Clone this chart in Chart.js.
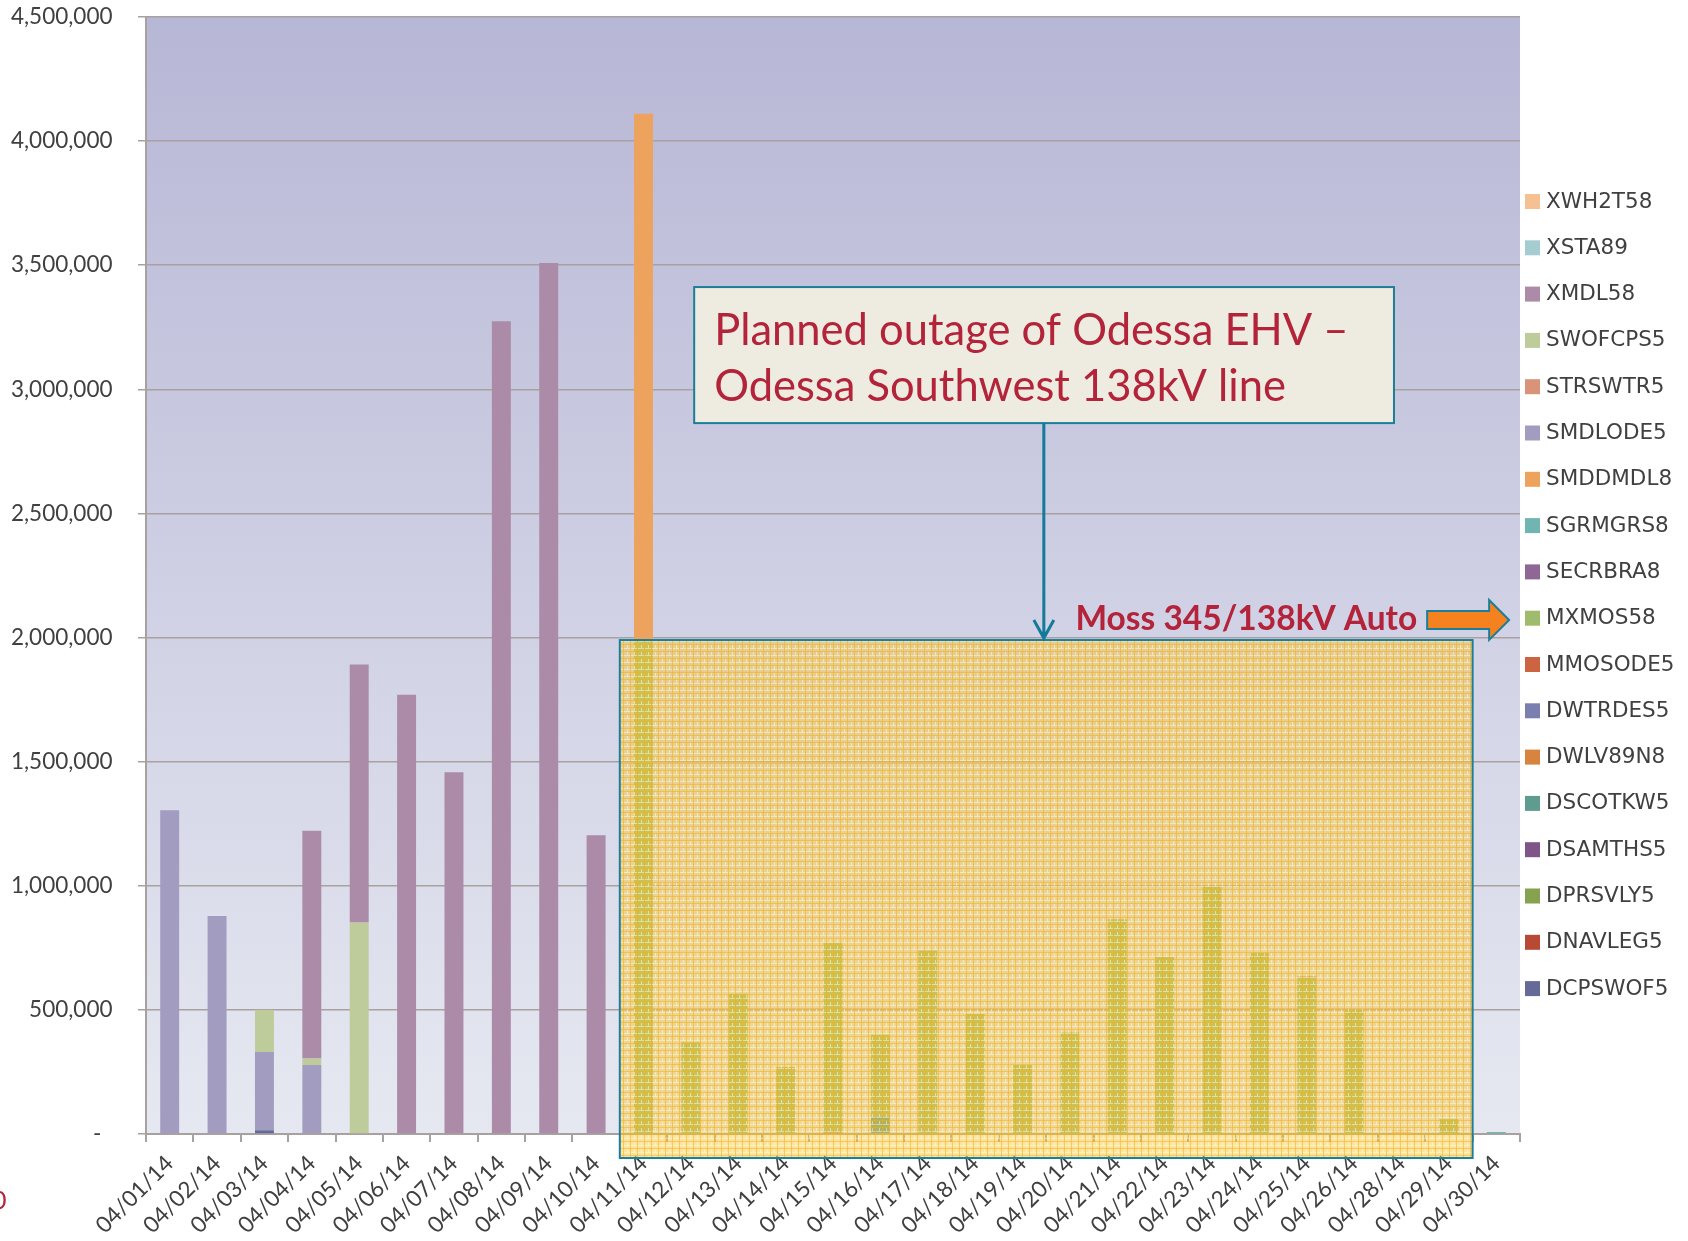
<!DOCTYPE html>
<html lang="en">
<head>
<meta charset="UTF-8">
<title>Odessa EHV outage - daily stacked bars</title>
<style>
  html, body { margin: 0; padding: 0; background: #ffffff; }
  #wrap { position: relative; width: 1688px; height: 1241px; }
</style>
</head>
<body>
<div id="wrap"><canvas id="myChart01"></canvas></div>
<script src="https://cdn.jsdelivr.net/npm/chart.js"></script>
<script>
// x categories (04/27 is not in the source chart)
var dateLabels = ['04/01/14', '04/02/14', '04/03/14', '04/04/14', '04/05/14', '04/06/14', '04/07/14', '04/08/14', '04/09/14', '04/10/14',
                  '04/11/14', '04/12/14', '04/13/14', '04/14/14', '04/15/14', '04/16/14', '04/17/14', '04/18/14', '04/19/14', '04/20/14',
                  '04/21/14', '04/22/14', '04/23/14', '04/24/14', '04/25/14', '04/26/14', '04/28/14', '04/29/14', '04/30/14'];

// y ticks
var yMax = 4500000;
var yStep = 500000;

// series values, one per date (bottom of the stack first)
var DCPSWOF5 = [0, 0, 15000, 0, 0, 0, 0, 0, 0, 0, 0, 0, 0, 0, 0, 0, 0, 0, 0, 0, 0, 0, 0, 0, 0, 0, 0, 0, 0];
var DNAVLEG5 = [0, 0, 0, 0, 0, 0, 0, 0, 0, 0, 0, 0, 0, 0, 0, 0, 0, 0, 0, 0, 0, 0, 0, 0, 0, 0, 0, 0, 0];
var DPRSVLY5 = [0, 0, 0, 0, 0, 0, 0, 0, 0, 0, 0, 0, 0, 0, 0, 0, 0, 0, 0, 0, 0, 0, 0, 0, 0, 0, 0, 0, 0];
var DSAMTHS5 = [0, 0, 0, 0, 0, 0, 0, 0, 0, 0, 0, 0, 0, 0, 0, 0, 0, 0, 0, 0, 0, 0, 0, 0, 0, 0, 0, 0, 0];
var DSCOTKW5 = [0, 0, 0, 0, 0, 0, 0, 0, 0, 0, 0, 0, 0, 0, 0, 70000, 0, 0, 0, 0, 0, 0, 0, 0, 0, 0, 0, 0, 0];
var DWLV89N8 = [0, 0, 0, 0, 0, 0, 0, 0, 0, 0, 0, 0, 0, 0, 0, 0, 0, 0, 0, 0, 0, 0, 0, 0, 0, 0, 0, 0, 0];
var DWTRDES5 = [0, 0, 0, 0, 0, 0, 0, 0, 0, 0, 0, 0, 0, 0, 0, 0, 0, 0, 0, 0, 0, 0, 0, 0, 0, 0, 0, 0, 0];
var MMOSODE5 = [0, 0, 0, 0, 0, 0, 0, 0, 0, 0, 0, 0, 0, 0, 6000, 0, 0, 0, 0, 0, 0, 0, 0, 0, 0, 0, 0, 0, 0];
var MXMOS58  = [0, 0, 0, 0, 0, 0, 0, 0, 0, 0, 1990000, 370000, 565000, 270000, 764000, 330000, 739000, 483000, 278000, 409000,
                865000, 713000, 996000, 730000, 632000, 500000, 0, 60000, 0];
var SECRBRA8 = [0, 0, 0, 0, 0, 0, 0, 0, 0, 0, 0, 0, 0, 0, 0, 0, 0, 0, 0, 0, 0, 0, 0, 0, 0, 0, 0, 0, 0];
var SGRMGRS8 = [0, 0, 0, 0, 0, 0, 0, 0, 0, 0, 0, 0, 0, 0, 0, 0, 0, 0, 0, 0, 0, 0, 0, 0, 0, 0, 0, 0, 8000];
var SMDDMDL8 = [0, 0, 0, 0, 0, 0, 0, 0, 0, 0, 2120000, 0, 0, 0, 0, 0, 0, 0, 0, 0, 0, 0, 0, 0, 0, 0, 0, 0, 0];
var SMDLODE5 = [1304000, 878000, 315000, 278000, 0, 0, 0, 0, 0, 0, 0, 0, 0, 0, 0, 0, 0, 0, 0, 0, 0, 0, 0, 0, 0, 0, 0, 0, 0];
var STRSWTR5 = [0, 0, 0, 0, 0, 0, 0, 0, 0, 0, 0, 0, 0, 0, 0, 0, 0, 0, 0, 0, 0, 0, 0, 0, 4000, 0, 0, 0, 0];
var SWOFCPS5 = [0, 0, 170000, 26000, 852000, 0, 0, 0, 0, 0, 0, 0, 0, 0, 0, 0, 0, 0, 0, 0, 0, 0, 0, 0, 0, 0, 0, 0, 0];
var XMDL58   = [0, 0, 0, 918000, 1039000, 1770000, 1457000, 3274000, 3509000, 1204000, 0, 0, 0, 0, 0, 0, 0, 0, 0, 0,
                0, 0, 0, 0, 0, 0, 0, 0, 0];
var XSTA89   = [0, 0, 0, 0, 0, 0, 0, 0, 0, 0, 0, 0, 0, 0, 0, 0, 0, 0, 0, 0, 0, 0, 0, 0, 0, 0, 0, 0, 0];
var XWH2T58  = [0, 0, 0, 0, 0, 0, 0, 0, 0, 0, 0, 0, 0, 0, 0, 0, 0, 0, 0, 0, 0, 0, 0, 0, 0, 0, 15000, 0, 0];

var seriesNames  = ['DCPSWOF5', 'DNAVLEG5', 'DPRSVLY5', 'DSAMTHS5', 'DSCOTKW5', 'DWLV89N8', 'DWTRDES5', 'MMOSODE5', 'MXMOS58',
                    'SECRBRA8', 'SGRMGRS8', 'SMDDMDL8', 'SMDLODE5', 'STRSWTR5', 'SWOFCPS5', 'XMDL58', 'XSTA89', 'XWH2T58'];
var seriesValues = [DCPSWOF5, DNAVLEG5, DPRSVLY5, DSAMTHS5, DSCOTKW5, DWLV89N8, DWTRDES5, MMOSODE5, MXMOS58,
                    SECRBRA8, SGRMGRS8, SMDDMDL8, SMDLODE5, STRSWTR5, SWOFCPS5, XMDL58, XSTA89, XWH2T58];
var seriesColors = ['#666a98', '#b84a35', '#86a24f', '#7e5489', '#5f9b8f', '#d6843f', '#7a7fb0', '#cc6341', '#9ebb6e',
                    '#8e6796', '#70b5b1', '#eda35e', '#a29cc0', '#d99379', '#bdcc9a', '#ab8ba8', '#a5cdd1', '#f5c193'];

// callouts, placed in data units (category index / value)
var noteLines = ['Planned outage of Odessa EHV \u2013', 'Odessa Southwest 138kV line'];
var noteBox = { x0: 11.07, x1: 25.84, y0: 3412000, y1: 2864000 };
var noteArrowX = 18.45;
var mossLabel = 'Moss 345/138kV Auto';
var shade = { from: 9.5, to: 27.5, top: 1990000 };

var gridColor = '#a9a0a0';
var labelColor = '#404040';
var noteRed = '#b3243a';
var teal = '#1c7e98';
var EN = '\u2002'; // en space, pushes y labels left of the tick marks

// 背景漸層
var plotBackground = {
    id: 'plotBackground',
    beforeDraw: function (chart) {
        var a = chart.chartArea, ctx = chart.ctx;
        var g = ctx.createLinearGradient(0, a.top, 0, a.bottom);
        g.addColorStop(0, '#b7b7d6');
        g.addColorStop(1, '#e6e8f1');
        ctx.save();
        ctx.fillStyle = g;
        ctx.fillRect(a.left, a.top, a.right - a.left, a.bottom - a.top);
        ctx.restore();
    }
};

// plaid texture for the shaded block
function makePattern(ctx) {
    var c = document.createElement('canvas');
    c.width = 7; c.height = 7;
    var p = c.getContext('2d');
    p.fillStyle = 'rgba(250,200,62,0.5)';
    p.fillRect(0, 0, 7, 7);
    p.fillStyle = 'rgba(246,176,16,0.5)';
    p.fillRect(0, 0, 1, 7);
    p.fillRect(0, 0, 7, 1);
    p.fillStyle = 'rgba(255,252,236,0.5)';
    p.fillRect(1, 4, 6, 1);
    p.fillRect(4, 1, 1, 3);
    return ctx.createPattern(c, 'repeat');
}

function fitFont(ctx, text, weight, family, width) {
    ctx.font = weight + ' 100px ' + family;
    return (100 * width / ctx.measureText(text).width).toFixed(1) + 'px';
}

// 黃色區塊 + 說明框 + 箭頭
var callouts = {
    id: 'callouts',
    afterDatasetsDraw: function (chart) {
        var ctx = chart.ctx, xs = chart.scales.x, ys = chart.scales.y, a = chart.chartArea;
        ctx.save();

        // shaded block over the Moss days
        var sx0 = xs.getPixelForValue(shade.from), sx1 = xs.getPixelForValue(shade.to);
        var sy0 = ys.getPixelForValue(shade.top), sy1 = a.bottom + 24;
        ctx.fillStyle = makePattern(ctx);
        ctx.fillRect(sx0, sy0, sx1 - sx0, sy1 - sy0);
        ctx.strokeStyle = teal;
        ctx.lineWidth = 2;
        ctx.strokeRect(sx0, sy0, sx1 - sx0, sy1 - sy0);

        // note box
        var bx0 = xs.getPixelForValue(noteBox.x0), bx1 = xs.getPixelForValue(noteBox.x1);
        var by0 = ys.getPixelForValue(noteBox.y0), by1 = ys.getPixelForValue(noteBox.y1);
        ctx.fillStyle = '#eeebe0';
        ctx.fillRect(bx0, by0, bx1 - bx0, by1 - by0);
        ctx.strokeRect(bx0, by0, bx1 - bx0, by1 - by0);
        ctx.fillStyle = noteRed;
        ctx.font = fitFont(ctx, noteLines[0], 'normal', 'Lato', 635) + ' Lato';
        ctx.textBaseline = 'alphabetic';
        ctx.textAlign = 'left';
        ctx.fillText(noteLines[0], bx0 + 20, by0 + 58);
        ctx.fillText(noteLines[1], bx0 + 20, by0 + 114);

        // arrow from note box down to the block
        var ax = xs.getPixelForValue(noteArrowX);
        ctx.strokeStyle = '#137a9a';
        ctx.lineWidth = 3;
        ctx.beginPath();
        ctx.moveTo(ax, by1);
        ctx.lineTo(ax, sy0 - 2);
        ctx.moveTo(ax - 10, sy0 - 20);
        ctx.lineTo(ax, sy0 - 2);
        ctx.lineTo(ax + 10, sy0 - 20);
        ctx.stroke();

        // Moss label + orange arrow pointing at legend
        var my = ys.getPixelForValue(2030000);
        ctx.fillStyle = noteRed;
        ctx.font = 'bold ' + fitFont(ctx, mossLabel, 'bold', 'Lato', 342) + ' Lato';
        ctx.textAlign = 'right';
        ctx.fillText(mossLabel, xs.getPixelForValue(26.33), my);
        var ox = xs.getPixelForValue(26.54), cy = ys.getPixelForValue(2071000);
        ctx.beginPath();
        ctx.moveTo(ox, cy - 9);
        ctx.lineTo(ox + 62, cy - 9);
        ctx.lineTo(ox + 62, cy - 20);
        ctx.lineTo(ox + 82, cy);
        ctx.lineTo(ox + 62, cy + 20);
        ctx.lineTo(ox + 62, cy + 9);
        ctx.lineTo(ox, cy + 9);
        ctx.closePath();
        ctx.fillStyle = '#f5821f';
        ctx.fill();
        ctx.strokeStyle = teal;
        ctx.lineWidth = 2;
        ctx.stroke();

        // clipped red "0" at the left edge of the slide
        ctx.fillStyle = noteRed;
        ctx.font = '25px Lato';
        ctx.textAlign = 'left';
        ctx.fillText('0', -8, 1209);
        ctx.restore();
    }
};

// 右側圖例（反向）
var sideLegend = {
    id: 'sideLegend',
    afterDraw: function (chart) {
        var ctx = chart.ctx, a = chart.chartArea;
        var sets = chart.data.datasets;
        ctx.save();
        ctx.font = '21.5px "DejaVu Sans"';
        ctx.textBaseline = 'middle';
        ctx.textAlign = 'left';
        for (var i = 0; i < sets.length; i++) {
            var ds = sets[sets.length - 1 - i];
            var y = a.top + 184 + i * 46.3;
            ctx.fillStyle = ds.backgroundColor;
            ctx.fillRect(a.right + 5, y - 7, 15, 15);
            ctx.fillStyle = labelColor;
            ctx.fillText(ds.label, a.right + 26, y + 1);
        }
        ctx.restore();
    }
};

var datasets = [];
seriesNames.forEach(function (name, k) {
    datasets.push({
        label: name,
        data: seriesValues[k],
        backgroundColor: seriesColors[k],
        borderWidth: 0,
        barPercentage: 0.4,
        categoryPercentage: 1.0
    });
});

var ctx01 = document.getElementById('myChart01');
var chart01 = new Chart(ctx01, {
    type: 'bar',
    data: { labels: dateLabels, datasets: datasets },
    options: {
        responsive: true,
        maintainAspectRatio: false,
        animation: false,
        layout: { padding: { top: 17, right: 168, left: 0, bottom: 0 } },
        plugins: {
            legend: { display: false },
            tooltip: { enabled: false }
        },
        scales: {
            x: {
                stacked: true,
                afterFit: function (s) { s.height = 107; },
                border: { color: gridColor, width: 2 },
                grid: { offset: true, drawOnChartArea: false, drawTicks: true, tickLength: 8, color: gridColor, lineWidth: 2 },
                ticks: {
                    color: labelColor,
                    font: { family: 'Lato', size: 22.5 },
                    minRotation: 45, maxRotation: 45,
                    padding: 8,
                    autoSkip: false
                }
            },
            y: {
                stacked: true,
                min: 0, max: yMax,
                afterFit: function (s) { s.width = 146; },
                border: { color: gridColor, width: 2 },
                grid: { color: gridColor, lineWidth: 1.5, tickLength: 8 },
                ticks: {
                    stepSize: yStep,
                    color: labelColor,
                    font: { family: 'Lato', size: 22.5 },
                    padding: 3,
                    callback: function (v) {
                        return v === 0 ? '-' + EN + EN + EN : v.toLocaleString('en-US') + EN + EN;
                    }
                }
            }
        }
    },
    plugins: [plotBackground, callouts, sideLegend]
});
</script>
</body>
</html>
